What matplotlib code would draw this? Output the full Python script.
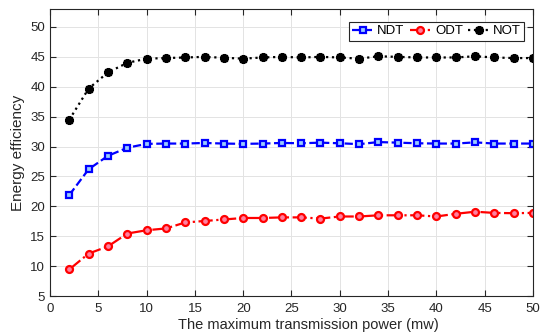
import numpy as np
import matplotlib
matplotlib.use('Agg')
import matplotlib.pyplot as plt

plt.rcParams['font.family'] = ['Liberation Sans', 'DejaVu Sans']

power = np.arange(2, 51, 2)  # mw
ndt = [21.9, 26.2, 28.45, 29.8, 30.45, 30.5, 30.5, 30.6, 30.5, 30.45, 30.5, 30.6, 30.55,
       30.65, 30.55, 30.4, 30.75, 30.65, 30.55, 30.5, 30.5, 30.7, 30.5, 30.5, 30.5]
odt = [9.45, 12.1, 13.3, 15.45, 16.0, 16.3, 17.3, 17.55, 17.8, 18.05, 18.05, 18.15, 18.15,
       17.95, 18.3, 18.3, 18.5, 18.5, 18.5, 18.3, 18.75, 19.1, 18.9, 18.85, 18.9]
nott = [34.5, 39.7, 42.4, 44.0, 44.7, 44.8, 44.9, 45.0, 44.85, 44.7, 44.9, 45.0, 44.9,
        45.0, 44.9, 44.7, 45.1, 45.0, 44.9, 44.9, 44.9, 45.1, 44.9, 44.8, 44.8]

fig = plt.figure(figsize=(5.4, 3.35), dpi=100)
ax = fig.add_axes([0.0926, 0.1164, 0.8944, 0.8566])

ax.plot(power, ndt, '--s', color='#0000ff', lw=1.6, ms=5, mfc='#99ccff', mec='#0000ff', mew=1.6, label='NDT')
ax.plot(power, odt, '-.o', color='#ff0000', lw=1.6, ms=5, mfc='#ff80a0', mec='#ff0000', mew=1.6, label='ODT')
ax.plot(power, nott, ':', color='black', lw=1.6, marker=(8, 2, 0), ms=6.5, mec='black', mew=1.8, label='NOT')

ax.set_xlim(0, 50)
ax.set_ylim(5, 53)
ax.set_xticks(np.arange(0, 51, 5))
ax.set_yticks(np.arange(5, 51, 5))
ax.grid(True, color='#e3e3e3', lw=0.7)
ax.tick_params(direction='in', top=True, right=True, labelsize=9.5, colors='#262626', length=4)
ax.tick_params(axis='x', pad=5)
for s in ax.spines.values():
    s.set_color('#262626')
ax.set_xlabel('The maximum transmission power (mw)', fontsize=10.5, color='#262626')
ax.xaxis.set_label_coords(0.534, -0.075)
ax.set_ylabel('Energy efficiency', fontsize=11, color='#262626', labelpad=4)

leg = ax.legend(loc='upper right', ncol=3, fontsize=9.5, handlelength=1.6, handletextpad=0.3,
                columnspacing=0.4, borderpad=0.25, borderaxespad=0, fancybox=False, framealpha=1,
                bbox_to_anchor=(0.982, 0.955))
leg.get_frame().set_edgecolor('#262626')
leg.get_frame().set_linewidth(0.8)

fig.savefig('out.png', dpi=100)
